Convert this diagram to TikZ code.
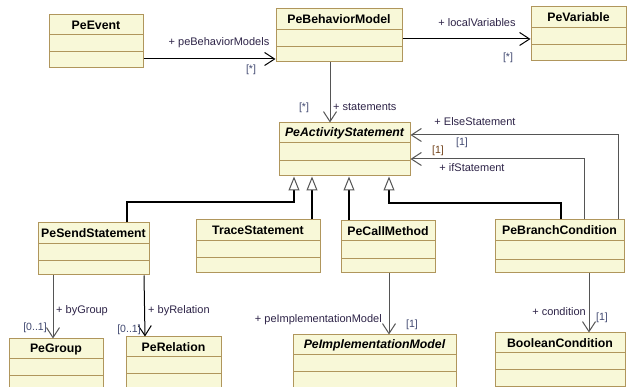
\documentclass[tikz,border=0pt]{standalone}
\usepackage{fontspec}
\setmainfont{Liberation Sans}
\usetikzlibrary{arrows.meta,fit}

\definecolor{classfill}{HTML}{F8F8D8}
\definecolor{classedge}{HTML}{B0965C}
\definecolor{rolecol}{HTML}{2E2448}
\definecolor{multcol}{HTML}{404870}
\definecolor{multbrown}{HTML}{704018}
\definecolor{linkgray}{HTML}{555555}

\tikzset{
  classbox/.style={draw=classedge, fill=classfill, line width=1pt, inner sep=0pt},
  divider/.style={draw=classedge, line width=1pt},
  classname/.style={font=\bfseries\fontsize{12.3}{14}\selectfont, text=black, inner sep=0pt},
  role/.style={font=\fontsize{11}{13}\selectfont, text=rolecol, inner sep=0pt},
  mult/.style={font=\fontsize{10.5}{12}\selectfont, text=multcol, inner sep=0pt},
  assoc/.style={line width=1pt, -{Straight Barb[length=10pt,width=13pt,line width=1pt]}},
  assocgray/.style={assoc, draw=linkgray},
  generalization/.style={line width=2pt, draw=black,
    -{Triangle[open,length=14pt,width=11pt,line width=1pt,color=linkgray,fill=white]}},
}

% name, left, top, right, bottom, first divider, second divider, title
\newcommand\umlclass[8]{%
  \node[classbox, fit={(#2,-#3)(#4,-#5)}] (#1) {};
  \draw[divider] (#2,-#6) -- (#4,-#6) (#2,-#7) -- (#4,-#7);
  \node[classname] at ({(#2+#4)/2},{-(#3+#6)/2}) {#8};
}

\begin{document}
\begin{tikzpicture}[x=1pt,y=1pt]
\clip (0,0) rectangle (630,-387);
\fill[white] (0,0) rectangle (630,-387);

% classes
\umlclass{PeEvent}{49}{15}{143}{68}{35}{52}{PeEvent}
\umlclass{PeBehaviorModel}{276}{9}{402}{62}{30}{47}{PeBehaviorModel}
\umlclass{PeVariable}{531}{7}{626}{61}{28}{45}{PeVariable}
\umlclass{PeActivityStatement}{279}{123}{410}{176}{143}{161}{\itshape PeActivityStatement}
\umlclass{PeSendStatement}{38}{223}{149}{275}{244}{261}{PeSendStatement}
\umlclass{TraceStatement}{196}{220}{320}{273}{241}{258}{TraceStatement}
\umlclass{PeCallMethod}{341}{221}{435}{273}{241}{259}{PeCallMethod}
\umlclass{PeBranchCondition}{495}{220}{624}{273}{241}{260}{PeBranchCondition}
\umlclass{PeGroup}{9}{339}{103}{400}{359}{376}{PeGroup}
\umlclass{PeRelation}{126}{337}{221}{400}{357}{374}{PeRelation}
\umlclass{PeImplementationModel}{293}{335}{456}{400}{355}{372}{\itshape PeImplementationModel}
\umlclass{BooleanCondition}{495}{333}{625}{387}{353}{370}{BooleanCondition}

% associations
\draw[assoc] (PeEvent.east |- 0,-59) -- (PeBehaviorModel.west |- 0,-59);
\node[role] (rBM) at (219,-43) {+ peBehaviorModels};
\node[mult] (mBM) at (251,-70) {[*]};

\draw[assoc] (PeBehaviorModel.east |- 0,-39) -- (PeVariable.west |- 0,-39);
\node[role] (rLV) at (477,-23) {+ localVariables};
\node[mult] (mLV) at (508,-58) {[*]};

\draw[assocgray] (PeBehaviorModel.south -| 330,0) -- (PeActivityStatement.north -| 330,0);
\node[mult] (mST) at (304,-108) {[*]};
\node[role, anchor=west] (rST) at (333,-107) {+ statements};

\draw[assocgray] (PeBranchCondition.north -| 618,0) |- (PeActivityStatement.east |- 0,-135);
\node[role] (rES) at (475,-122) {+ ElseStatement};
\node[mult] (mES) at (462,-143) {[1]};

\draw[assocgray] (PeBranchCondition.north -| 584,0) |- (PeActivityStatement.east |- 0,-159);
\node[mult, text=multbrown] (mIS) at (438,-151) {[1]};
\node[role] (rIS) at (472,-168) {+ ifStatement};

\draw[assocgray] (PeSendStatement.south -| 53,0) -- (PeGroup.north -| 53,0);
\node[role, anchor=west] (rBG) at (56,-311) {+ byGroup};
\node[mult] (mBG) at (35,-328) {[0..1]};

\draw[assoc] (PeSendStatement.south -| 144,0) -- (PeRelation.north -| 145,0);
\node[role, anchor=west] (rBR) at (148,-311) {+ byRelation};
\node[mult] (mBR) at (129,-330) {[0..1]};

\draw[assocgray] (PeCallMethod.south -| 389,0) -- (PeImplementationModel.north -| 389,0);
\node[role, anchor=east] (rIM) at (382,-320) {+ peImplementationModel};
\node[mult] (mIM) at (412,-325) {[1]};

\draw[assocgray] (PeBranchCondition.south -| 589,0) -- (BooleanCondition.north -| 589,0);
\node[role, anchor=east] (rBC) at (586,-312) {+ condition};
\node[mult, anchor=west] (mBC) at (596,-318) {[1]};

% generalizations
\draw[generalization] (PeSendStatement.north -| 127,0) |- (294,-202) -- (PeActivityStatement.south -| 294,0);
\draw[generalization] (TraceStatement.north -| 312,0) -- (PeActivityStatement.south -| 312,0);
\draw[generalization] (PeCallMethod.north -| 349,0) -- (PeActivityStatement.south -| 349,0);
\draw[generalization] (PeBranchCondition.north -| 561,0) |- (389,-203) -- (PeActivityStatement.south -| 389,0);
\end{tikzpicture}
\end{document}
